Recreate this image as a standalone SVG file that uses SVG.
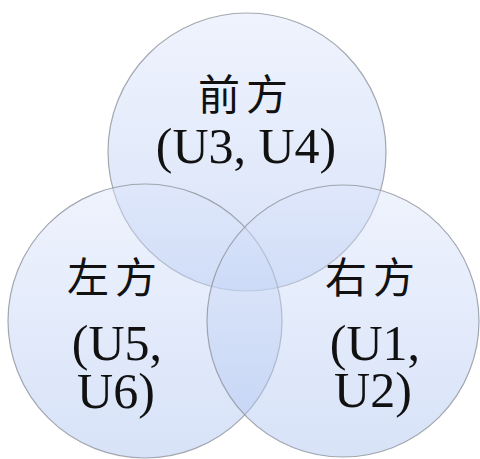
<svg xmlns="http://www.w3.org/2000/svg" width="480" height="459" viewBox="0 0 480 459">
<defs>
<linearGradient id="g" x1="0" y1="0" x2="0" y2="1">
<stop offset="0" stop-color="#dce5fb"/>
<stop offset="1" stop-color="#a9c1f0"/>
</linearGradient>
<style>
.c{fill:url(#g);fill-opacity:0.46;stroke:#8e939c;stroke-width:1.2;stroke-opacity:0.8}
.zh{font-family:"Noto Sans CJK SC",sans-serif;font-size:42px;letter-spacing:6px;fill:#111;text-anchor:middle}
.en{font-family:"Liberation Serif",serif;font-size:50px;fill:#111;text-anchor:middle}
</style>
</defs>
<rect width="480" height="459" fill="#fff"/>
<g id="front">
<circle class="c" cx="247" cy="152" r="139"/>
</g>
<g id="left">
<circle class="c" cx="145" cy="321" r="137"/>
</g>
<g id="right">
<circle class="c" cx="343" cy="321" r="136"/>
</g>
<g id="labels">
<text class="zh" x="246" y="110">前方</text>
<text class="en" x="246" y="163">(U3, U4)</text>
<text class="zh" x="115" y="293">左方</text>
<text class="en" x="117" y="360">(U5,</text>
<text class="en" x="116" y="408">U6)</text>
<text class="zh" x="373" y="293">右方</text>
<text class="en" x="375" y="360">(U1,</text>
<text class="en" x="373" y="407">U2)</text>
</g>
<g id="connectors"/>
</svg>
